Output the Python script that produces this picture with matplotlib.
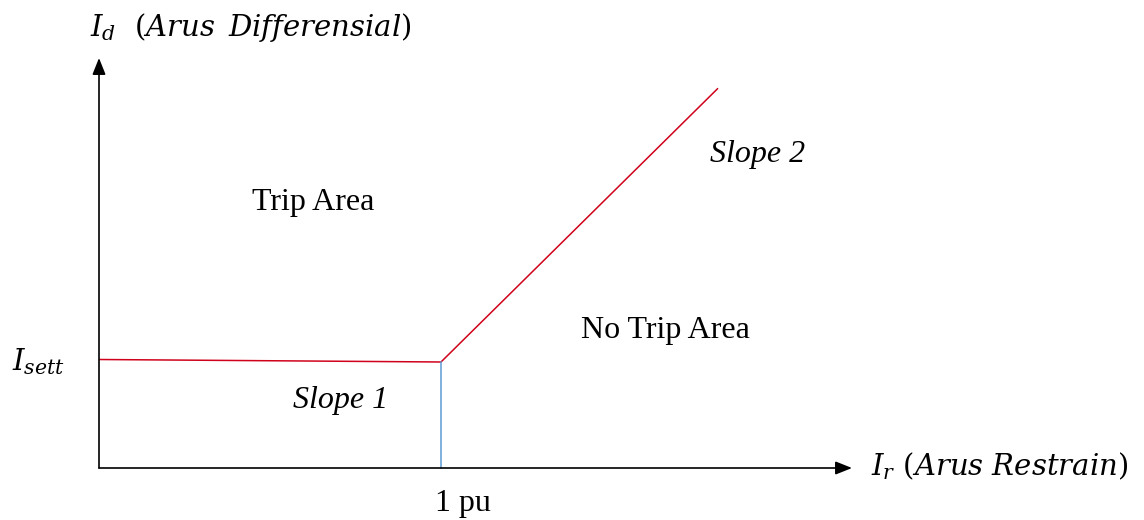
import matplotlib
matplotlib.use("Agg")
import matplotlib.pyplot as plt

plt.rcParams['mathtext.fontset'] = 'custom'
plt.rcParams['mathtext.rm'] = 'DejaVu Serif'
plt.rcParams['mathtext.it'] = 'DejaVu Serif:italic'
plt.rcParams['font.family'] = ['Liberation Serif', 'DejaVu Serif']

# Characteristic curve (x in pu, y relative to I_sett)
curve_x = [0.0, 1.0, 1.81]
curve_y = [1.0, 0.977, 3.50]
knee_x = [1.0, 1.0]
knee_y = [0.0, 0.977]

W, H = 1144, 520
fig = plt.figure(figsize=(W / 100, H / 100), dpi=100)

# axis geometry in pixels
x0, y0 = 99, 468
xtip, ytip = 852, 58
ux, uy = 342.0, 108.5
ax = fig.add_axes([x0 / W, (H - y0) / H, (xtip - x0) / W, (y0 - ytip) / H])
ax.set_xlim(0, (xtip - x0) / ux)
ax.set_ylim(0, (y0 - ytip) / uy)
ax.axis('off')

def d(px, py):
    return ((px - x0) / ux, (y0 - py) / uy)

ax.plot(curve_x, curve_y, color='#D0021B', lw=1.1, solid_capstyle='butt', clip_on=False)
ax.plot(knee_x, knee_y, color='#5B9BD5', lw=1.1, clip_on=False)

xmax = (xtip - x0) / ux
ymax = (y0 - ytip) / uy
ap = dict(arrowstyle='-|>,head_length=1.0,head_width=0.4', color='black', lw=1.2,
          shrinkA=0, shrinkB=0)
ax.annotate('', xy=(xmax, 0), xytext=(0, 0), arrowprops=ap, annotation_clip=False)
ax.annotate('', xy=(0, ymax), xytext=(0, 0), arrowprops=ap, annotation_clip=False)

tk = dict(fontsize=23, clip_on=False)
ax.text(*d(252, 210), 'Trip Area', ha='left', va='baseline', **tk)
ax.text(*d(581, 338), 'No Trip Area', ha='left', va='baseline', **tk)
ax.text(*d(293, 408), 'Slope 1', ha='left', va='baseline', style='italic', **tk)
ax.text(*d(710, 162), 'Slope 2', ha='left', va='baseline', style='italic', **tk)
ax.text(*d(463, 511), '1 pu', ha='center', va='baseline', **tk)

mk = dict(fontsize=21, clip_on=False)
ax.text(*d(90, 36), r'$I_d\ \ (Arus\ \,Differensial)$', ha='left', va='baseline', **mk)
ax.text(*d(871, 475), r'$I_r\ (Arus\ Restrain)$', ha='left', va='baseline', **mk)
ax.text(*d(12, 370), r'$I_{sett}$', ha='left', va='baseline', **mk)

fig.savefig('out.png', dpi=100)
